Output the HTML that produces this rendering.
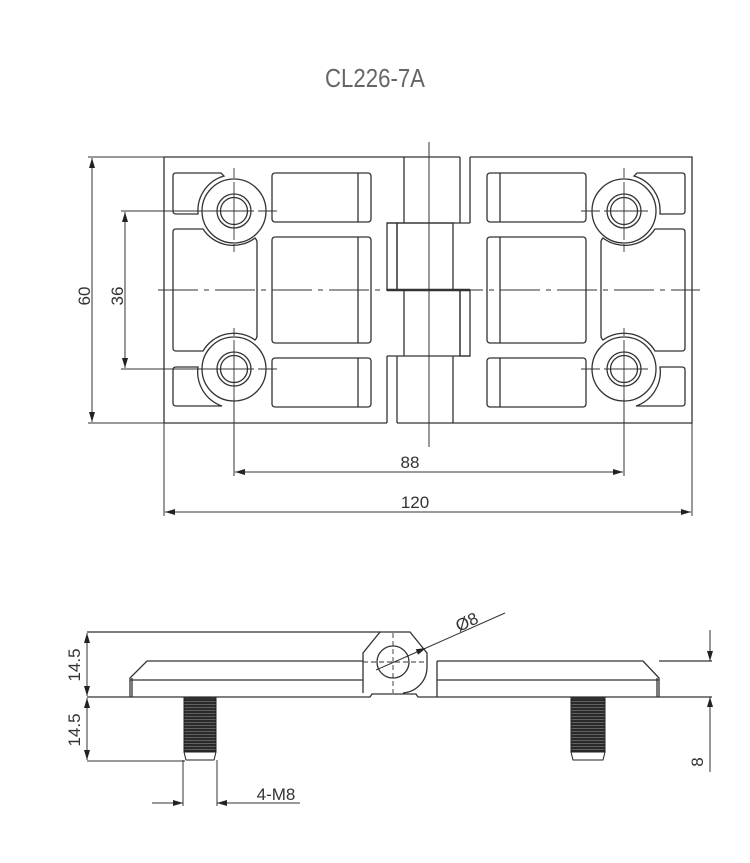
<!DOCTYPE html>
<html><head><meta charset="utf-8"><style>
html,body{margin:0;padding:0;background:#fff}
svg{display:block}
text{font-family:"Liberation Sans",sans-serif;fill:#333}
</style></head><body>
<svg width="750" height="863" viewBox="0 0 750 863" xmlns="http://www.w3.org/2000/svg">
<defs>
<marker id="a" viewBox="0 0 10 10" refX="10" refY="5" markerWidth="10" markerHeight="10" markerUnits="userSpaceOnUse" orient="auto-start-reverse"><path d="M0,2 L10,5 L0,8 z" fill="#222"/></marker>
<pattern id="thr" width="4" height="3" patternUnits="userSpaceOnUse"><rect width="4" height="3" fill="#2a2a2a"/><rect y="2" width="4" height="0.7" fill="#777"/></pattern>
<g id="leaf" fill="none" stroke="#333" stroke-width="1.3">
  <!-- TL pocket -->
  <path d="M176,173 H221 L224,176 A36 36 0 0 0 198,213 V214 H176 Q173,214 173,211 V176 Q173,173 176,173 Z"/>
  <!-- big left pocket -->
  <path d="M176,229 H203 A36 36 0 0 0 255,238 Q257,240 257,242 V336 Q257,338 255,340 A36 36 0 0 0 203,351 H176 Q173,351 173,348 V232 Q173,229 176,229 Z"/>
  <!-- BL pocket -->
  <path d="M176,367 H198 A36 36 0 0 0 222,406 H176 Q173,406 173,403 V370 Q173,367 176,367 Z"/>
  <!-- middle rects -->
  <rect x="272" y="173" width="99" height="49" rx="3"/>
  <line x1="358" y1="173" x2="358" y2="222"/>
  <rect x="272" y="237" width="99" height="106" rx="3"/>
  <line x1="358" y1="237" x2="358" y2="343"/>
  <rect x="272" y="358" width="99" height="49" rx="3"/>
  <line x1="358" y1="358" x2="358" y2="407"/>
  <!-- holes -->
  <circle cx="234" cy="211" r="32"/><circle cx="234" cy="211" r="17"/><circle cx="234" cy="211" r="13.5"/>
  <circle cx="234" cy="369" r="32"/><circle cx="234" cy="369" r="17"/><circle cx="234" cy="369" r="13.5"/>
  <g stroke-width="0.9">
    <line x1="234" y1="168" x2="234" y2="178"/><line x1="234" y1="182" x2="234" y2="240"/><line x1="234" y1="244" x2="234" y2="252"/>
    <line x1="258" y1="211" x2="277" y2="211"/><line x1="210" y1="211" x2="254" y2="211"/>
    <line x1="234" y1="328" x2="234" y2="336"/><line x1="234" y1="340" x2="234" y2="398"/>
    <line x1="258" y1="369" x2="277" y2="369"/><line x1="210" y1="369" x2="254" y2="369"/>
  </g>
</g>
</defs>

<text x="375" y="87" font-size="26" text-anchor="middle" textLength="100" lengthAdjust="spacingAndGlyphs" style="fill:#666">CL226-7A</text>

<g fill="none" stroke="#333" stroke-width="1.3">
  <!-- outline -->
  <path d="M164,157 H460 M470,157 H692 V423 H397 M387,423 H164 Z"/>
  <line x1="164" y1="157" x2="164" y2="423"/>
  <!-- hinge -->
  <line x1="404" y1="157" x2="404" y2="223"/><line x1="460" y1="157" x2="460" y2="223"/><line x1="470" y1="157" x2="470" y2="223"/>
  <line x1="387" y1="223" x2="470" y2="223"/>
  <rect x="387" y="223" width="10" height="67"/><rect x="397" y="223" width="56" height="67"/>
  <line x1="387" y1="290" x2="470" y2="290" stroke-width="2.4"/>
  <line x1="404" y1="290" x2="404" y2="356"/><line x1="460" y1="290" x2="460" y2="356"/>
  <rect x="460" y="290" width="10" height="66"/>
  <line x1="387" y1="356" x2="470" y2="356"/>
  <line x1="387" y1="356" x2="387" y2="423"/><line x1="397" y1="356" x2="397" y2="423"/><line x1="453" y1="356" x2="453" y2="423"/>
  <line x1="429" y1="142" x2="429" y2="447" stroke-width="1"/>
</g>
<use href="#leaf"/>
<use href="#leaf" transform="translate(858,0) scale(-1,1)"/>
<line x1="158" y1="290" x2="700" y2="290" stroke="#333" stroke-width="0.9" stroke-dasharray="40,6,5,6"/>

<!-- top dims -->
<g stroke="#333" stroke-width="1" fill="none">
  <line x1="88" y1="157" x2="164" y2="157"/><line x1="88" y1="423" x2="164" y2="423"/>
  <line x1="92" y1="158" x2="92" y2="422" marker-start="url(#a)" marker-end="url(#a)"/>
  <line x1="121" y1="211" x2="210" y2="211"/><line x1="121" y1="369" x2="210" y2="369"/>
  <line x1="125" y1="212" x2="125" y2="368" marker-start="url(#a)" marker-end="url(#a)"/>
  <line x1="234" y1="398" x2="234" y2="476"/><line x1="624" y1="398" x2="624" y2="476"/>
  <line x1="235" y1="472" x2="623" y2="472" marker-start="url(#a)" marker-end="url(#a)"/>
  <line x1="164" y1="423" x2="164" y2="516"/><line x1="692" y1="423" x2="692" y2="516"/>
  <line x1="165" y1="512" x2="691" y2="512" marker-start="url(#a)" marker-end="url(#a)"/>
</g>
<text x="0" y="0" font-size="17" text-anchor="middle" transform="translate(90,296) rotate(-90)">60</text>
<text x="0" y="0" font-size="17" text-anchor="middle" transform="translate(123,296) rotate(-90)">36</text>
<text x="410" y="468" font-size="17" text-anchor="middle">88</text>
<text x="415" y="508" font-size="17" text-anchor="middle">120</text>

<!-- side view -->
<g fill="none" stroke="#333" stroke-width="1.3">
  <path d="M87,632 H380 L363,653 V693"/>
  <path d="M380,632 H410 L427,653 V667 A26 26 0 0 1 403,693"/>
  <path d="M363,661 H147 L130,678 V697 M132,678 V697 M130,680 H363"/>
  <path d="M87,697 H370 L372,694 H416 L418,697 H437"/>
  <path d="M437,661 V697 M437,661 H643 L659,678 V697 M657,678 V697 M437,680 H659 M437,697 H712 M659,661 H712"/>
  <circle cx="393" cy="662" r="16"/>
  <g stroke-width="0.9" stroke-dasharray="5,3">
    <line x1="363" y1="662" x2="427" y2="662"/><line x1="393" y1="633" x2="393" y2="693"/>
  </g>
</g>
<g stroke="#333" stroke-width="1" fill="none">
  <line x1="376" y1="670" x2="426" y2="648" marker-end="url(#a)"/>
  <line x1="426" y1="648" x2="505" y2="613"/>
  <line x1="87" y1="633" x2="87" y2="696" marker-start="url(#a)" marker-end="url(#a)"/>
  <line x1="87" y1="698" x2="87" y2="760" marker-start="url(#a)" marker-end="url(#a)"/>
  <line x1="87" y1="761" x2="185" y2="761"/>
  <line x1="183" y1="760" x2="183" y2="806"/><line x1="217" y1="760" x2="217" y2="806"/>
  <line x1="152" y1="803" x2="183" y2="803" marker-end="url(#a)"/>
  <line x1="300" y1="803" x2="217" y2="803" marker-end="url(#a)"/>
  <line x1="710" y1="630" x2="710" y2="661" marker-end="url(#a)"/>
  <line x1="710" y1="772" x2="710" y2="697" marker-end="url(#a)"/>
</g>
<text x="0" y="0" font-size="17" transform="translate(459,632) rotate(-25)">Ø8</text>
<text x="0" y="0" font-size="17" text-anchor="middle" transform="translate(80,665) rotate(-90)">14.5</text>
<text x="0" y="0" font-size="17" text-anchor="middle" transform="translate(80,730) rotate(-90)">14.5</text>
<text x="0" y="0" font-size="17" text-anchor="middle" transform="translate(703,762) rotate(-90)">8</text>
<text x="276" y="800" font-size="17" text-anchor="middle">4-M8</text>

<!-- screws -->
<g stroke="#222" stroke-width="1">
  <rect x="184" y="698" width="32" height="54" fill="url(#thr)"/>
  <path d="M184,752 H216 L214,760 H186 Z" fill="#fff"/>
  <rect x="571" y="698" width="34" height="54" fill="url(#thr)"/>
  <path d="M571,752 H605 L603,760 H573 Z" fill="#fff"/>
</g>
</svg>
</body></html>
